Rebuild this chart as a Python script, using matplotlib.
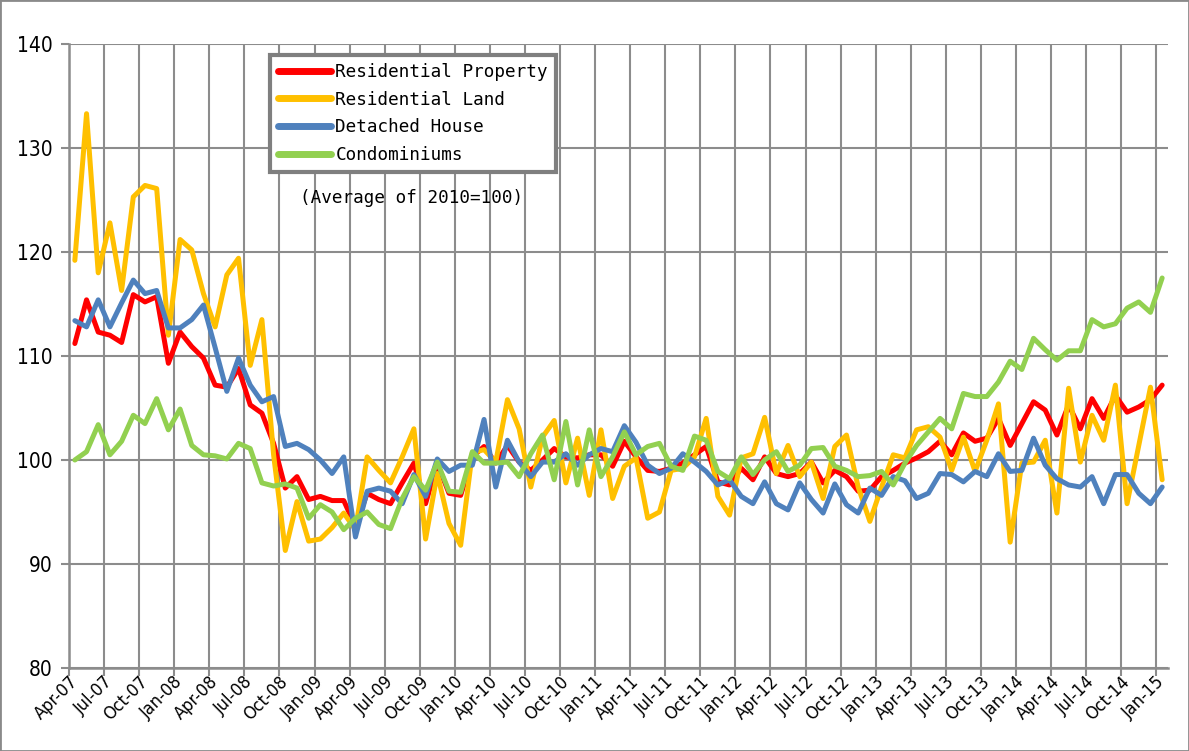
import numpy as np
import pandas as pd
import matplotlib
matplotlib.use("Agg")
import matplotlib.pyplot as plt
from matplotlib.patches import Rectangle
from matplotlib import font_manager

# monthly index, Apr-07 .. Jan-15
months = pd.date_range("2007-04-01", "2015-01-01", freq="MS")
month_labels = list(months.strftime("%b-%y"))

residential_property = [
    111.2, 115.4, 112.3, 112.0, 111.3, 115.9, 115.2, 115.7, 109.3, 112.3,
    110.9, 109.8, 107.2, 107.0, 108.8, 105.3, 104.5, 101.6, 97.3, 98.4,
    96.2, 96.5, 96.1, 96.1, 93.6, 96.8, 96.2, 95.8, 97.8, 99.7,
    95.8, 99.7, 96.8, 96.6, 100.3, 101.3, 99.7, 101.4, 99.8, 99.0,
    100.0, 101.1, 100.3, 100.2, 100.5, 100.5, 99.4, 101.8, 100.3, 99.0,
    98.9, 99.2, 99.7, 100.5, 101.3, 97.9, 97.6, 99.2, 98.1, 100.3,
    98.7, 98.4, 98.7, 99.8, 97.8, 99.0, 98.4, 97.0, 97.1, 98.4,
    99.0, 99.7, 100.2, 100.8, 101.8, 100.5, 102.6, 101.8, 102.1, 104.0,
    101.4, 103.5, 105.6, 104.8, 102.4, 105.3, 103.0, 105.9, 104.0, 106.2,
    104.6, 105.1, 105.8, 107.2,
]

residential_land = [
    119.2, 133.3, 118.0, 122.8, 116.3, 125.3, 126.4, 126.1, 112.0, 121.2,
    120.2, 116.0, 112.8, 117.8, 119.4, 109.1, 113.5, 100.5, 91.3, 96.0,
    92.2, 92.4, 93.5, 94.9, 93.3, 100.3, 99.0, 97.8, 100.3, 103.0,
    92.4, 98.7, 93.9, 91.8, 100.7, 101.0, 99.8, 105.8, 103.0, 97.4,
    102.2, 103.8, 97.8, 102.1, 96.6, 102.9, 96.3, 99.4, 100.2, 94.4,
    95.0, 99.0, 99.2, 100.3, 104.0, 96.5, 94.7, 100.2, 100.6, 104.1,
    98.7, 101.4, 98.4, 99.8, 96.3, 101.3, 102.4, 97.4, 94.1, 97.4,
    100.5, 100.2, 102.9, 103.2, 102.2, 99.0, 102.2, 98.9, 101.9, 105.4,
    92.1, 99.7, 99.8, 101.9, 94.9, 106.9, 99.8, 104.3, 101.9, 107.2,
    95.8, 101.4, 107.0, 98.1,
]

detached_house = [
    113.4, 112.8, 115.4, 112.8, 115.1, 117.3, 116.0, 116.3, 112.7, 112.7,
    113.5, 114.9, 110.8, 106.6, 109.8, 107.2, 105.6, 106.1, 101.3, 101.6,
    101.0, 100.0, 98.7, 100.3, 92.6, 97.0, 97.3, 97.0, 95.8, 98.6,
    96.5, 100.1, 98.9, 99.5, 99.5, 103.9, 97.4, 101.9, 99.8, 98.4,
    99.8, 99.8, 100.6, 99.5, 100.5, 101.1, 100.8, 103.3, 101.7, 99.5,
    98.7, 99.2, 100.6, 99.8, 98.9, 97.6, 98.1, 96.5, 95.8, 97.9,
    95.8, 95.2, 97.8, 96.2, 94.9, 97.7, 95.7, 94.9, 97.3, 96.6,
    98.4, 98.0, 96.3, 96.8, 98.7, 98.6, 97.9, 98.9, 98.4, 100.6,
    98.9, 99.0, 102.1, 99.5, 98.2, 97.6, 97.4, 98.4, 95.8, 98.6,
    98.6, 96.8, 95.8, 97.4,
]

condominiums = [
    100.0, 100.8, 103.4, 100.5, 101.8, 104.3, 103.5, 105.9, 102.9, 104.9,
    101.4, 100.5, 100.4, 100.1, 101.6, 101.1, 97.8, 97.5, 97.7, 97.3,
    94.4, 95.7, 95.0, 93.3, 94.4, 95.0, 93.8, 93.4, 96.3, 98.4,
    97.1, 99.8, 97.0, 96.9, 100.8, 99.7, 99.7, 99.8, 98.4, 100.6,
    102.4, 98.1, 103.7, 97.6, 102.9, 98.4, 100.3, 102.7, 100.5, 101.3,
    101.6, 99.4, 99.0, 102.3, 101.9, 98.9, 98.2, 100.3, 98.6, 100.0,
    100.8, 98.9, 99.5, 101.1, 101.2, 99.4, 99.0, 98.4, 98.5, 98.9,
    97.6, 99.7, 101.4, 102.7, 104.0, 103.0, 106.4, 106.1, 106.1, 107.5,
    109.5, 108.7, 111.7, 110.6, 109.6, 110.5, 110.5, 113.5, 112.8, 113.1,
    114.6, 115.2, 114.2, 117.5,
]

series = [
    ("Residential Property", residential_property, "#FF0000"),
    ("Residential Land", residential_land, "#FFC000"),
    ("Detached House", detached_house, "#4F81BD"),
    ("Condominiums", condominiums, "#92D050"),
]

# narrow font for the axis labels if there is one
installed = {f.name for f in font_manager.fontManager.ttflist}
narrow = "Liberation Sans Narrow" if "Liberation Sans Narrow" in installed else "DejaVu Sans"
stretch = "normal" if narrow != "DejaVu Sans" else "condensed"
mono = "DejaVu Sans Mono"
gridc = "#8C8C8C"

W, H = 1189, 751
fig = plt.figure(figsize=(W / 100, H / 100), dpi=100)
ax = fig.add_axes([69 / W, 1 - 668 / H, (1168 - 69) / W, (668 - 44) / H])

x = np.arange(len(months))
for name, vals, col in series:
    ax.plot(x, vals, color=col, lw=3.6, label=name,
            solid_joinstyle="round", solid_capstyle="round", zorder=3)

ax.set_xlim(-0.5, len(x) - 0.5)
ax.set_ylim(80, 140)
ax.set_yticks(range(80, 141, 10))

ax.set_xticks(x[::3])
ax.set_xticklabels(month_labels[::3], rotation=45, ha="right", va="center",
                   rotation_mode="anchor", fontfamily=narrow, fontsize=13,
                   fontstretch=stretch)
ax.set_xticks(np.arange(-0.5, len(x), 3), minor=True)
ax.tick_params(axis="x", which="major", length=0, pad=8)
ax.tick_params(axis="x", which="minor", length=6, width=1.5, color=gridc, direction="out")
ax.tick_params(axis="y", length=6, width=1.5, color=gridc, pad=6)
for lab in ax.get_yticklabels():
    lab.set_fontfamily(narrow)
    lab.set_fontsize(15)
    lab.set_fontstretch(stretch)

ax.grid(axis="x", which="minor", color=gridc, lw=1.5)
ax.grid(axis="y", which="major", color=gridc, lw=1.5)
ax.set_axisbelow(True)

for s in ["top", "right"]:
    ax.spines[s].set_visible(False)
for s in ["left", "bottom"]:
    ax.spines[s].set_color(gridc)
    ax.spines[s].set_linewidth(1.8)

leg = ax.legend(loc="upper left", bbox_to_anchor=(270 / W, 1 - 55 / H),
                bbox_transform=fig.transFigure, borderaxespad=0,
                prop={"family": mono, "size": 12.7}, fancybox=False,
                framealpha=1, edgecolor="#7F7F7F", handlelength=3.0,
                handletextpad=0.25, labelspacing=0.55, borderpad=0.45)
leg.get_frame().set_linewidth(3)
for ln in leg.get_lines():
    ln.set_linewidth(5)

fig.text(412 / W, 1 - 198 / H, "(Average of 2010=100)", ha="center", va="center",
         family=mono, fontsize=12.7)

fig.patches.append(Rectangle((0, 0), 1, 1, transform=fig.transFigure, fill=False,
                             edgecolor="#8A8A8A", lw=2, clip_on=False))

fig.savefig("out.png", dpi=100)
